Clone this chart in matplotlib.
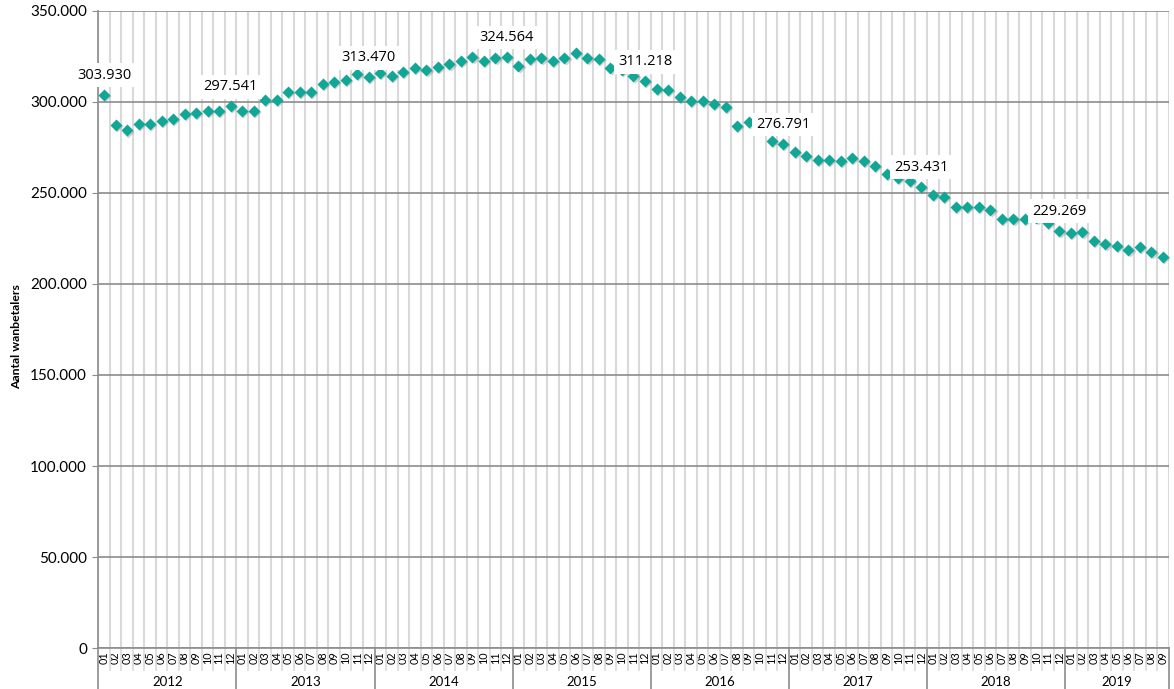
import matplotlib
matplotlib.use("Agg")
import matplotlib.pyplot as plt
import matplotlib.transforms as mtransforms
from matplotlib.ticker import FuncFormatter

# Aantal wanbetalers per maand (2012-01 t/m 2019-09)
years = ['2012', '2013', '2014', '2015', '2016', '2017', '2018', '2019']
v2012 = [303930, 287400, 284300, 287800, 287800, 289300, 290700, 293500, 293700, 294900, 294900, 297541]
v2013 = [294800, 294800, 301000, 301000, 305400, 305600, 305200, 309600, 311000, 311900, 315100, 313470]
v2014 = [316000, 314300, 316500, 318400, 317500, 319300, 320800, 322400, 324400, 322600, 324200, 324564]
v2015 = [319800, 323300, 324200, 322400, 324200, 326600, 324200, 323300, 318700, 317500, 314200, 311218]
v2016 = [307000, 306300, 302800, 300400, 300400, 298800, 297300, 286700, 288700, 285600, 278600, 276791]
v2017 = [272300, 270400, 268000, 268000, 267300, 269000, 267500, 264800, 260200, 258000, 256700, 253431]
v2018 = [248800, 247600, 242100, 242100, 242100, 240600, 235700, 235700, 235700, 236100, 233300, 229269]
v2019 = [227800, 228400, 223600, 221900, 221000, 218600, 220100, 217700, 214600]
per_year = [v2012, v2013, v2014, v2015, v2016, v2017, v2018, v2019]

months = []
values = []
for vals in per_year:
    months += ['%02d' % (m + 1) for m in range(len(vals))]
    values += vals
n = len(values)
x = list(range(n))

# punten met een label: eerste maand en elke december
label_idx = [0, 11, 23, 35, 47, 59, 71, 83]

fig = plt.figure(figsize=(11.74, 6.89), dpi=100)
ax = fig.add_axes([0.0837, 0.0591, 0.9118, 0.9255])

ax.set_xlim(-0.5, n - 0.5)
ax.set_ylim(0, 350000)

# rasterlijnen
ax.set_yticks(range(0, 350001, 50000))
ax.yaxis.set_major_formatter(FuncFormatter(lambda v, p: f"{int(v):,}".replace(",", ".")))
ax.grid(axis='y', color='#8c8c8c', lw=1.2, zorder=1)
for b in range(n + 1):
    ax.axvline(b - 0.5, color='#d9d9d9', lw=1.5, zorder=0)
ax.set_axisbelow(True)

for s in ('top', 'right'):
    ax.spines[s].set_visible(False)
ax.spines['left'].set_color('#8c8c8c')
ax.spines['bottom'].set_color('#8c8c8c')
ax.spines['left'].set_linewidth(1.2)
ax.spines['bottom'].set_linewidth(1.2)

ax.tick_params(axis='y', length=4, color='#8c8c8c', labelsize=11, pad=4)
for t in ax.get_yticklabels():
    t.set_family('Lato')

ax.set_xticks(x)
ax.set_xticklabels(months, rotation=90, fontsize=7.8, family='Lato')
ax.tick_params(axis='x', length=0, pad=2)

# scheidingslijnen onder de as
trans = mtransforms.blended_transform_factory(ax.transData, ax.transAxes)
year_starts = [0]
for vals in per_year:
    year_starts.append(year_starts[-1] + len(vals))
for b in range(n + 1):
    if b in year_starts:
        ax.plot([b - 0.5, b - 0.5], [0, -0.064], transform=trans, color='#8c8c8c',
                lw=1.2, clip_on=False)
    else:
        ax.plot([b - 0.5, b - 0.5], [0, -0.034], transform=trans, color='#d9d9d9',
                lw=1.2, clip_on=False)
for i, yr in enumerate(years):
    mid = (year_starts[i] + year_starts[i + 1] - 1) / 2
    ax.text(mid, -0.053, yr, transform=trans, ha='center', va='center',
            fontsize=9.5, family='Lato')

# markers met schaduw
shadow = ax.transData + mtransforms.ScaledTranslation(1.2 / 100, -1.2 / 100, fig.dpi_scale_trans)
ax.plot(x, values, 'D', color='#7f7f7f', alpha=0.35, ms=6.5, mec='none',
        transform=shadow, zorder=2)
ax.plot(x, values, 'D', color='#10a797', ms=6.5, mec='none', zorder=3)

for i in label_idx:
    ax.annotate(f"{values[i]:,}".replace(",", "."), (i, values[i]), xytext=(0, 14),
                textcoords='offset points', ha='center', va='center', fontsize=10.5,
                family='Open Sans',
                bbox=dict(boxstyle='square,pad=0.3', fc='white', ec='none'), zorder=5)

fig.text(0.0145, 0.511, 'Aantal wanbetalers', rotation=90, ha='center', va='center',
         fontsize=8.8, weight='bold', family='Lato')

fig.savefig('out.png', dpi=100)
